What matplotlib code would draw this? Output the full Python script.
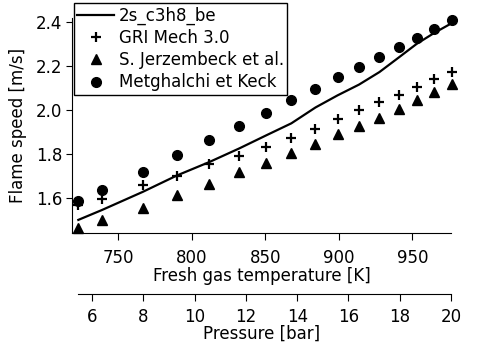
import matplotlib
matplotlib.use('Agg')
import matplotlib.pyplot as plt

# 温度 [K]
temp = [722.8, 738.9, 766.5, 789.9, 811.9, 832.3, 850.5, 867.7,
        884.1, 899.1, 913.7, 927.6, 940.7, 952.9, 964.9, 976.7]
# 2s_c3h8_be (計算結果)
calc = [1.499, 1.544, 1.626, 1.701, 1.762, 1.824, 1.883, 1.938,
        2.010, 2.065, 2.114, 2.171, 2.237, 2.299, 2.349, 2.393]
# GRI Mech 3.0
gri = [1.565, 1.596, 1.656, 1.700, 1.751, 1.788, 1.832, 1.872,
       1.914, 1.957, 1.999, 2.033, 2.068, 2.103, 2.140, 2.173]
# S. Jerzembeck et al.
jerz = [1.460, 1.499, 1.552, 1.612, 1.660, 1.717, 1.758, 1.803,
        1.843, 1.891, 1.928, 1.963, 2.005, 2.044, 2.082, 2.118]
# Metghalchi et Keck
metg = [1.585, 1.635, 1.715, 1.794, 1.862, 1.927, 1.984, 2.043,
        2.094, 2.148, 2.193, 2.238, 2.284, 2.324, 2.366, 2.407]

temp_ticks = [750, 800, 850, 900, 950]
press_ticks = [6, 8, 10, 12, 14, 16, 18, 20]

plt.rcParams['font.family'] = 'DejaVu Sans'
plt.rcParams['font.size'] = 12

fig = plt.figure(figsize=(5, 3.5), dpi=100)
ax = fig.add_axes([0.144, 0.3334, 0.758, 0.614])

ax.plot(temp, calc, color='black', linewidth=1.6, label='2s_c3h8_be')
ax.plot(temp, gri, linestyle='none', marker='+', markersize=7,
        markeredgewidth=1.6, color='black', label='GRI Mech 3.0', clip_on=False)
ax.plot(temp, jerz, linestyle='none', marker='^', markersize=7,
        color='black', label='S. Jerzembeck et al.', clip_on=False)
ax.plot(temp, metg, linestyle='none', marker='o', markersize=7,
        color='black', label='Metghalchi et Keck', clip_on=False)

ax.set_xlim(718.5, 976.3)
ax.set_ylim(1.438, 2.415)
ax.set_xticks(temp_ticks)
ax.set_yticks([1.6, 1.8, 2.0, 2.2, 2.4])
ax.spines['top'].set_visible(False)
ax.spines['right'].set_visible(False)
ax.tick_params(axis='x', direction='out', length=5, pad=6)
ax.tick_params(axis='y', direction='out', length=4, pad=3)
ax.set_xlabel('Fresh gas temperature [K]', labelpad=0)
ax.set_ylabel('Flame speed [m/s]', labelpad=6)

# 圧力の第2横軸
ax2 = ax.twiny()
ax2.set_xlim(5.21, 20)
ax2.set_xticks(press_ticks)
ax2.xaxis.set_ticks_position('bottom')
ax2.xaxis.set_label_position('bottom')
ax2.spines['bottom'].set_position(('outward', 43.7))
ax2.spines['bottom'].set_bounds(5.44, 20)
for s in ['top', 'right', 'left']:
    ax2.spines[s].set_visible(False)
ax2.tick_params(axis='x', direction='out', length=5, pad=5)
ax2.set_xlabel('Pressure [bar]', labelpad=-1)

leg = ax.legend(loc='upper left', bbox_to_anchor=(0.005, 1.07), frameon=True,
                fancybox=False, edgecolor='black', framealpha=1,
                handlelength=2.2, handletextpad=0.3, borderpad=0.2,
                labelspacing=0.25, borderaxespad=0)
leg.get_frame().set_linewidth(1.0)

fig.savefig('out.png', dpi=100)
